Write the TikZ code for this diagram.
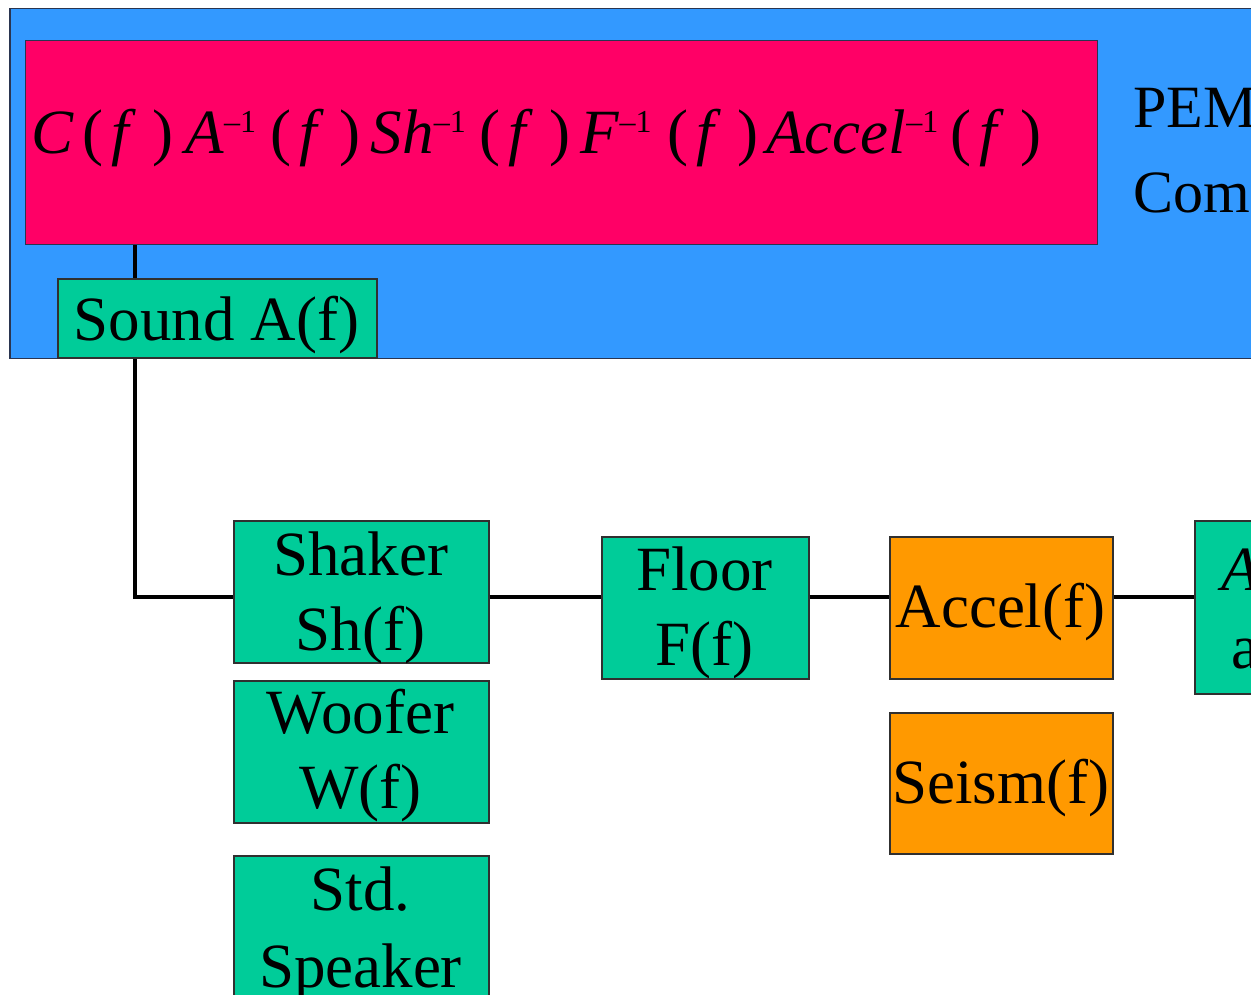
\documentclass[tikz,border=0pt]{standalone}
\usepackage{fontspec}
\setmainfont{Liberation Serif}
\definecolor{panelblue}{HTML}{3399FF}
\definecolor{paneledge}{HTML}{2A3550}
\definecolor{formulared}{HTML}{FF0066}
\definecolor{blockgreen}{HTML}{00CC99}
\definecolor{sensororange}{HTML}{FF9900}
\definecolor{edge}{HTML}{303030}

% argument "(f)" and the inverse exponent of the transfer functions
\newcommand\fargs{(\kern8pt\textit{f}\kern16pt)}
\newcommand\inv{\raisebox{21pt}{\fontsize{32}{32}\selectfont\textendash1}}

\tikzset{
  block/.style={draw=edge, line width=1.5pt, rectangle, inner sep=0pt, anchor=north west},
  gblock/.style={block, fill=blockgreen},
  oblock/.style={block, fill=sensororange},
  lbl/.style={anchor=base, inner sep=0pt, font=\fontsize{63}{75}\selectfont},
  wire/.style={line width=4.5pt, black},
}

\begin{document}
\begin{tikzpicture}[x=1pt,y=-1pt]
\useasboundingbox (0,0) rectangle (1251,994);
\clip (0,0) rectangle (1251,994);
\fill[white] (0,0) rectangle (1251,994);

% PEM panel with the combined transfer function
\node[block, draw=paneledge, fill=panelblue, minimum width=1300pt, minimum height=350pt] (panel) at (9,7.5) {};
\node[block, draw=paneledge, fill=formulared, minimum width=1072pt, minimum height=204pt] (formula) at (24.5,39.5) {};
\node[anchor=base west, inner sep=0pt, font=\fontsize{63}{63}\selectfont] (formulatext) at (31,153)
  {\textit{C}\kern9pt\fargs\kern12pt\textit{A}\inv\kern14pt\fargs\kern10pt\textit{Sh}\inv\kern14pt\fargs\kern10pt\textit{F}\inv\kern16pt\fargs\kern8pt\textit{Accel}\inv\kern12pt\fargs};
\node[anchor=base west, inner sep=0pt, font=\fontsize{60}{60}\selectfont] (pem) at (1133,127) {PEM};
\node[anchor=base west, inner sep=0pt, font=\fontsize{60}{60}\selectfont] (com) at (1133,212) {Com};

% injection chain blocks
\node[gblock, minimum width=319pt, minimum height=79pt] (sound) at (57,278) {};
\node[gblock, minimum width=255pt, minimum height=142pt] (shaker) at (233,520) {};
\node[gblock, minimum width=255pt, minimum height=142pt] (woofer) at (233,680) {};
\node[gblock, minimum width=255pt, minimum height=142pt] (speaker) at (233,855) {};
\node[gblock, minimum width=207pt, minimum height=142pt] (floor) at (601,536) {};
\node[oblock, minimum width=223pt, minimum height=142pt] (accel) at (889,536) {};
\node[oblock, minimum width=223pt, minimum height=141pt] (seism) at (889,712) {};
\node[gblock, minimum width=200pt, minimum height=173pt] (next) at (1194,520) {};

% labels
\node[lbl] (soundlbl) at (216.5,340) {Sound A(f)};
\node[lbl] (shakerlbl1) at (360.5,575) {Shaker};
\node[lbl] (shakerlbl2) at (360.5,650) {Sh(f)};
\node[lbl] (wooferlbl1) at (360.5,733) {Woofer};
\node[lbl] (wooferlbl2) at (360.5,808) {W(f)};
\node[lbl] (speakerlbl1) at (360.5,910) {Std.};
\node[lbl] (speakerlbl2) at (360.5,987) {Speaker};
\node[lbl] (floorlbl1) at (704.5,590) {Floor};
\node[lbl] (floorlbl2) at (704.5,665) {F(f)};
\node[lbl] (accellbl) at (1000.5,627) {Accel(f)};
\node[lbl] (seismlbl) at (1000.5,803) {Seism(f)};
\node[lbl, anchor=base west] (nextlbl1) at (1221,590) {\textit{A}};
\node[lbl, anchor=base west] (nextlbl2) at (1231,668) {a};

% signal path
\coordinate (tap) at (135,0);
\coordinate (bus) at (0,597);
\draw[wire] (tap |- formula.south) -- (tap |- sound.north);
\draw[wire] (tap |- sound.south) |- (shaker.west |- bus);
\draw[wire] (shaker.east |- bus) -- (floor.west |- bus);
\draw[wire] (floor.east |- bus) -- (accel.west |- bus);
\draw[wire] (accel.east |- bus) -- (next.west |- bus);
\end{tikzpicture}
\end{document}
